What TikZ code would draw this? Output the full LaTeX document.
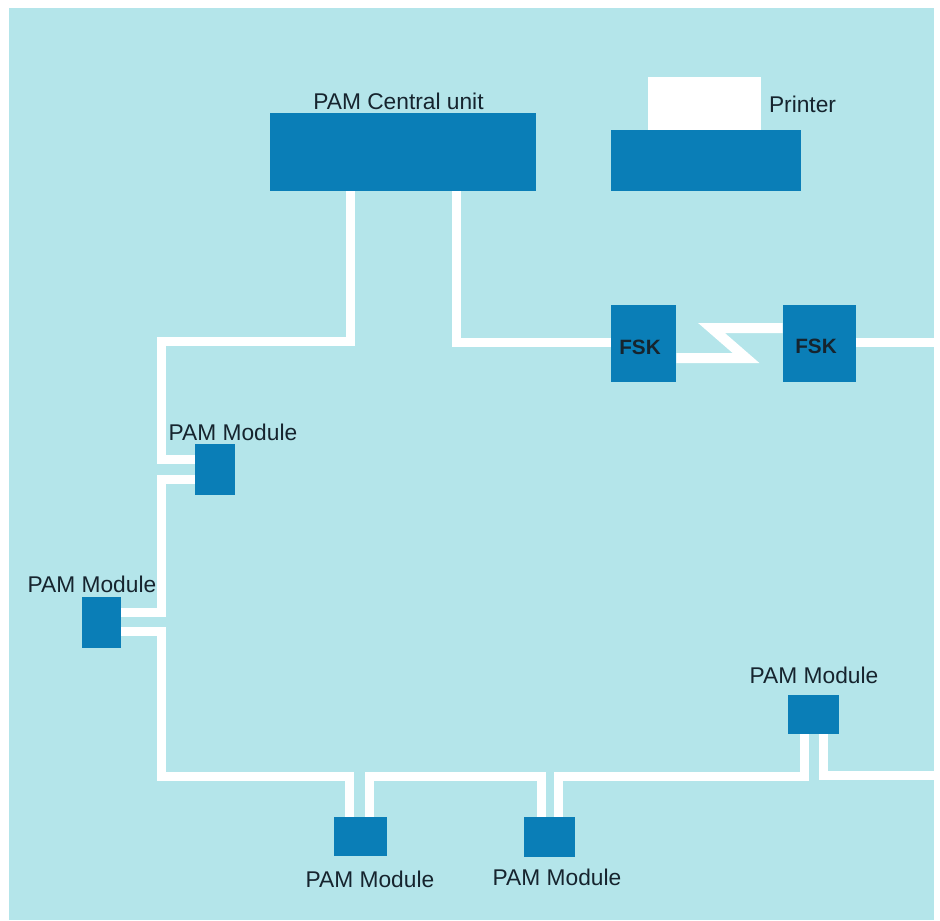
\documentclass[tikz,border=0pt]{standalone}
\usepackage{fontspec}
\setmainfont{Liberation Sans}
\definecolor{panelblue}{HTML}{B4E5EA}
\definecolor{boxblue}{HTML}{0A7EB7}
\definecolor{inkdark}{HTML}{16242E}
\tikzset{
  panelbox/.style={fill=panelblue,inner sep=0pt},
  unitbox/.style={fill=boxblue,inner sep=0pt},
  paperbox/.style={fill=white,inner sep=0pt},
  tag/.style={inner sep=0pt,text=inkdark,font=\fontsize{12.95}{15}\selectfont},
  fsktag/.style={inner sep=0pt,text=inkdark,font=\bfseries\fontsize{11.8}{14}\selectfont},
  wire/.style={draw=white,line width=0.18cm,miter limit=10},
}
\begin{document}
\begin{tikzpicture}[x=0.02cm,y=-0.02cm]
        \useasboundingbox (0,0) rectangle (940,920);
        \node[panelbox,minimum width=18.5cm,minimum height=18.24cm] (panel) at (471.5,464) {};

        % Central unit and printer
        \node[unitbox,minimum width=5.32cm,minimum height=1.56cm] (central) at (403,152) {};
        \node[tag] (centraltag) at (398.5,101) {PAM Central unit};
        \node[paperbox,minimum width=2.26cm,minimum height=1.06cm] (paper) at (704.5,103.5) {};
        \node[unitbox,minimum width=3.8cm,minimum height=1.22cm] (printer) at (706,160.5) {};
        \node[tag] (printertag) at (802.5,104) {Printer};

        % FSK pair
        \node[unitbox,minimum width=1.3cm,minimum height=1.54cm] (fska) at (643.5,343.5) {};
        \node[fsktag] (fskatag) at (640,347) {FSK};
        \node[unitbox,minimum width=1.46cm,minimum height=1.54cm] (fskb) at (819.5,343.5) {};
        \node[fsktag] (fskbtag) at (816,346) {FSK};

        % Modules
        \node[unitbox,minimum width=0.8cm,minimum height=1.02cm] (moda) at (215,469.5) {};
        \node[tag] (modatag) at (233,432) {PAM Module};
        \node[unitbox,minimum width=0.78cm,minimum height=1.02cm] (modb) at (101.5,622.5) {};
        \node[tag] (modbtag) at (92,584) {PAM Module};
        \node[unitbox,minimum width=1.06cm,minimum height=0.78cm] (modc) at (360.5,836.5) {};
        \node[tag] (modctag) at (370,879) {PAM Module};
        \node[unitbox,minimum width=1.02cm,minimum height=0.8cm] (modd) at (549.5,837) {};
        \node[tag] (moddtag) at (557,877) {PAM Module};
        \node[unitbox,minimum width=1.02cm,minimum height=0.78cm] (mode) at (813.5,714.5) {};
        \node[tag] (modetag) at (814,675) {PAM Module};

        % Bends of the ring
        \coordinate (ca) at (350.2,341.7);
        \coordinate (cb) at (161.5,341.7);
        \coordinate (cc) at (161.5,459.5);
        \coordinate (cd) at (161.5,479);
        \coordinate (ce) at (161.5,612);
        \coordinate (cf) at (161.5,631.5);
        \coordinate (cg) at (161.5,776);
        \coordinate (ch) at (349.5,776);
        \coordinate (ci) at (369.5,776.5);
        \coordinate (cj) at (541,776.5);
        \coordinate (ck) at (558,776);
        \coordinate (cl) at (804,776);
        \coordinate (cm) at (823,775);
        \coordinate (fa) at (456.5,342.5);
        \coordinate (za) at (746,358);
        \coordinate (zb) at (711.5,328);

        % Ring from the central unit through the modules
        \draw[wire] (central.south -| ca) -- (ca) -- (cb) -- (cc) -- (moda.west |- cc);
        \draw[wire] (moda.west |- cd) -- (cd) -- (ce) -- (modb.east |- ce);
        \draw[wire] (modb.east |- cf) -- (cf) -- (cg) -- (ch) -- (modc.north -| ch);
        \draw[wire] (modc.north -| ci) -- (ci) -- (cj) -- (modd.north -| cj);
        \draw[wire] (modd.north -| ck) -- (ck) -- (cl) -- (mode.south -| cl);
        \draw[wire] (mode.south -| cm) -- (cm) -- (panel.east |- cm);

        % Line through the FSK pair
        \draw[wire] (central.south -| fa) -- (fa) -- (fska.west |- fa);
        \draw[wire,line width=0.2cm] (fska.east |- za) -- (za) -- (zb) -- (fskb.west |- zb);
        \draw[wire] (fskb.east |- fa) -- (panel.east |- fa);
\end{tikzpicture}
\end{document}
